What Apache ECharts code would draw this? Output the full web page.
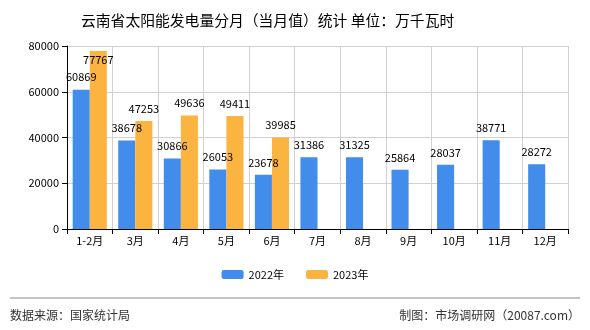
<!DOCTYPE html>
<html><head><meta charset="utf-8">
<script src="https://cdn.jsdelivr.net/npm/echarts@6/dist/echarts.min.js"></script>
<style>html,body{margin:0;padding:0;background:#fff}#c{width:590px;height:330px}</style>
</head><body><div id="c"></div>
<script>
const categories = ['1-2月','3月','4月','5月','6月','7月','8月','9月','10月','11月','12月'];
const series2022 = [60869,38678,30866,26053,23678,31386,31325,25864,28037,38771,28272];
const series2023 = [77767,47253,49636,49411,39985,null,null,null,null,null,null];
const seriesNames = ['2022年','2023年'];
const yTicks = [0,20000,40000,60000,80000];

const yMax = yTicks[yTicks.length-1];
function withLabels(arr){
  return arr.map(v => (v != null && v > yMax*0.92)
    ? {value:v,label:{position:'insideTop',distance:3}}
    : v);
}

const chart = echarts.init(document.getElementById('c'));
const font = '"Noto Sans CJK SC", sans-serif';
chart.setOption({
  animation:false,
  title:{text:'云南省太阳能发电量分月（当月值）统计 单位：万千瓦时',left:76,top:8,
    textStyle:{fontSize:14.8,fontWeight:'normal',color:'#000',fontFamily:font}},
  legend:{data:seriesNames,bottom:45,left:'center',itemWidth:22,itemHeight:9,itemGap:22,
    textStyle:{fontSize:11,color:'#000',fontFamily:font}},
  grid:{left:67,right:22,top:46,bottom:101},
  xAxis:{type:'category',data:categories,
    axisLine:{lineStyle:{color:'#000'}},
    axisTick:{show:true,lineStyle:{color:'#000'}},
    axisLabel:{fontSize:11,color:'#000',fontFamily:font,margin:6},
    splitLine:{show:true,lineStyle:{color:'#d0d0d0'}}},
  yAxis:{type:'value',min:yTicks[0],max:yMax,interval:20000,
    axisLine:{show:true,lineStyle:{color:'#000'}},
    axisTick:{show:true,lineStyle:{color:'#000'}},
    axisLabel:{fontSize:11,color:'#000',fontFamily:font,formatter:v=>String(v)},
    splitLine:{lineStyle:{color:'#d0d0d0'}}},
  series:[
    {name:seriesNames[0],type:'bar',data:withLabels(series2022),barGap:'0%',barCategoryGap:'25%',
      itemStyle:{color:'#428CEC'},
      label:{show:true,position:'top',fontSize:11,color:'#000',fontFamily:font,distance:7}},
    {name:seriesNames[1],type:'bar',data:withLabels(series2023),
      itemStyle:{color:'#FBB440'},
      label:{show:true,position:'top',fontSize:11,color:'#000',fontFamily:font,distance:7}}
  ],
  graphic:[
    {type:'line',shape:{x1:10,y1:298,x2:580,y2:298},style:{stroke:'#888',lineWidth:1}},
    {type:'text',left:10,top:309,style:{text:'数据来源：国家统计局',fontSize:12,fill:'#333',fontFamily:font}},
    {type:'text',right:10,top:309,style:{text:'制图：市场调研网（20087.com）',fontSize:12,fill:'#333',fontFamily:font}}
  ]
});
</script></body></html>
